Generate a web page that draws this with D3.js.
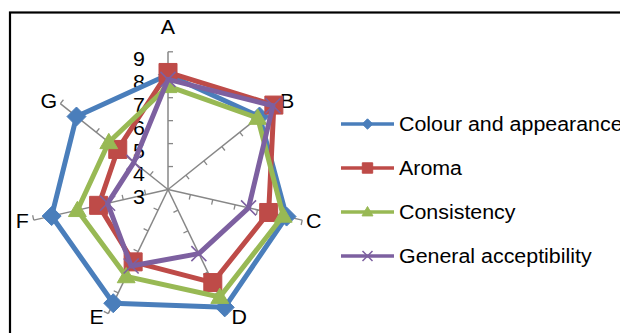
<!DOCTYPE html>
<html>
<head>
<meta charset="utf-8">
<script src="https://cdn.jsdelivr.net/npm/d3@7"></script>
<style>
  body { margin: 0; background: #fff; }
  text { font-family: "Liberation Sans", Arial, sans-serif; fill: #000; }
</style>
</head>
<body>
<div id="radar-chart"></div>
<script>
// data
const categories = ["A", "B", "C", "D", "E", "F", "G"];
const seriesNames = ["Colour and appearance", "Aroma", "Consistency", "General acceptibility"];
const colourValues = [8.0, 8.1, 8.3, 8.7, 8.5, 8.2, 8.1];
const aromaValues = [8.1, 8.9, 7.5, 7.5, 6.5, 6.1, 5.8];
const consistencyValues = [7.5, 8.0, 8.15, 8.2, 7.2, 7.05, 6.3];
const generalValues = [7.8, 8.85, 6.6, 6.1, 6.7, 5.7, 4.9];
const tickValues = [3, 4, 5, 6, 7, 8, 9];

const allValues = [colourValues, aromaValues, consistencyValues, generalValues];
const colors = ["#4a7ebb", "#be4b48", "#98b954", "#7d60a0"];
const markers = ["diamond", "square", "triangle", "x"];

const width = 620;
const height = 333;
const cx = 168, cy = 189.5;
const sx = 1.07; // text in the picture is a bit wide

const svg = d3.select("#radar-chart")
  .append("svg")
  .attr("width", width)
  .attr("height", height);

// outer frame, cut off at right and bottom
svg.append("rect")
  .attr("x", 10).attr("y", 12.5)
  .attr("width", 700).attr("height", 400)
  .attr("fill", "none")
  .attr("stroke", "#000")
  .attr("stroke-width", 2.2);

const r = d3.scaleLinear().domain([3, 9]).range([0, 137.7]);
const angle = d3.scaleBand().domain(categories).range([0, 2 * Math.PI]);

const g = svg.append("g").attr("transform", `translate(${cx},${cy})`);

function dir(c) {
  const a = angle(c);
  return [Math.sin(a), -Math.cos(a)];
}

function addText(sel, x, y, txt, anchor, size) {
  return sel.append("text")
    .attr("transform", `translate(${x},${y}) scale(${sx},1)`)
    .attr("text-anchor", anchor)
    .attr("font-size", size + "px")
    .text(txt);
}

// spokes with ticks
categories.forEach(c => {
  const [dx, dy] = dir(c);
  g.append("line")
    .attr("x1", 0).attr("y1", 0)
    .attr("x2", dx * r(9)).attr("y2", dy * r(9))
    .attr("stroke", "#878787")
    .attr("stroke-width", 1.5);
  tickValues.slice(1).forEach(t => {
    const px = dx * r(t), py = dy * r(t);
    g.append("line")
      .attr("x1", px).attr("y1", py)
      .attr("x2", px - dy * 5).attr("y2", py + dx * 5)
      .attr("stroke", "#878787")
      .attr("stroke-width", 1.3);
  });
  // category label, pushed sideways off the spoke end like Excel does
  const side = Math.abs(dx) > 0.1;
  const ox = side ? Math.sign(dx) * 11.5 : 0;
  const oy = side ? dy * 4 : -25;
  addText(g, dx * r(9) + ox, dy * r(9) + oy, c, "middle", 20)
    .attr("dominant-baseline", "central");
});

// value labels on the A axis
tickValues.forEach(t => {
  addText(g, -23, -r(t) + 14, t, "end", 20);
});

const line = d3.lineRadial()
  .angle((d, i) => angle(categories[i]))
  .radius(d => r(d))
  .curve(d3.curveLinearClosed);

function markerPath(type, s) {
  if (type === "diamond") return `M0,${-s}L${s},0L0,${s}L${-s},0Z`;
  if (type === "square") return `M${-s},${-s}H${s}V${s}H${-s}Z`;
  if (type === "triangle") return `M0,${-s * 1.05}L${s * 1.05},${s * 0.75}L${-s * 1.05},${s * 0.75}Z`;
  return `M${-s},${-s}L${s},${s}M${-s},${s}L${s},${-s}`;
}
const markerSize = { diamond: 9.5, square: 9, triangle: 8.5, x: 7.5 };

allValues.forEach((vals, si) => {
  const sg = g.append("g");
  sg.append("path")
    .attr("d", line(vals))
    .attr("fill", "none")
    .attr("stroke", colors[si])
    .attr("stroke-width", 5)
    .attr("stroke-linejoin", "round");
  const m = markers[si];
  sg.selectAll(".mk")
    .data(vals)
    .enter()
    .append("path")
    .attr("transform", (d, i) => {
      const [dx, dy] = dir(categories[i]);
      return `translate(${dx * r(d)},${dy * r(d)})`;
    })
    .attr("d", markerPath(m, markerSize[m]))
    .attr("fill", m === "x" ? "none" : colors[si])
    .attr("stroke", colors[si])
    .attr("stroke-width", m === "x" ? 1.6 : 1);
});

// legend
const legend = svg.append("g");
seriesNames.forEach((name, i) => {
  const y = 124 + i * 44;
  legend.append("line")
    .attr("x1", 341).attr("x2", 394)
    .attr("y1", y).attr("y2", y)
    .attr("stroke", colors[i])
    .attr("stroke-width", 3.5);
  const m = markers[i];
  legend.append("path")
    .attr("transform", `translate(367.5,${y})`)
    .attr("d", markerPath(m, m === "x" ? 5 : 5.2))
    .attr("fill", m === "x" ? "none" : colors[i])
    .attr("stroke", colors[i])
    .attr("stroke-width", m === "x" ? 1.5 : 1);
  addText(legend, 399, y + 7, name, "start", 20);
});
</script>
</body>
</html>
